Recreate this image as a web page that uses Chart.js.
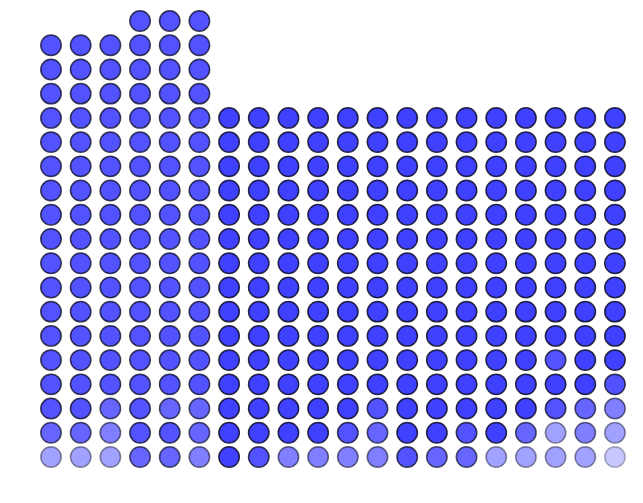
<!DOCTYPE html>
<html>
<head>
<meta charset="utf-8">
<script src="https://cdn.jsdelivr.net/npm/chart.js@4/dist/chart.umd.min.js"></script>
<style>
	body { margin: 0; background: #fff; }
</style>
</head>
<body>
<canvas id="dotChart" width="643" height="503"></canvas>
<script>
// number of dots stacked in each column
var columnHeights = [18, 18, 18, 19, 19, 19, 15, 15, 15, 15, 15, 15, 15, 15, 15, 15, 15, 15, 15, 15];

// shade of each column above the bottom rows
var baseShades = ['B', 'B', 'B', 'B', 'B', 'B', 'A', 'A', 'A', 'A', 'A', 'A', 'A', 'A', 'A', 'A', 'A', 'A', 'A', 'A'];

// shades of the bottom rows, row 0 first
var row0 = ['E', 'E', 'E', 'C', 'C', 'D', 'A', 'B', 'D', 'D', 'D', 'D', 'B', 'C', 'C', 'E', 'E', 'E', 'E', 'F'];
var row1 = ['C', 'C', 'D', 'B', 'B', 'C', 'A', 'A', 'A', 'A', 'B', 'C', 'A', 'A', 'B', 'A', 'C', 'E', 'D', 'E'];
var row2 = ['B', 'B', 'C', 'B', 'C', 'C', 'A', 'A', 'A', 'A', 'A', 'B', 'A', 'A', 'A', 'A', 'A', 'B', 'C', 'D'];
var row3 = ['B', 'B', 'B', 'B', 'B', 'B', 'A', 'A', 'A', 'A', 'A', 'A', 'A', 'A', 'A', 'A', 'A', 'A', 'A', 'B'];
var row4 = ['B', 'B', 'B', 'B', 'B', 'B', 'A', 'A', 'A', 'A', 'A', 'A', 'A', 'A', 'A', 'A', 'A', 'B', 'A', 'A'];

var shadeAlpha = { A: 0.75, B: 0.68, C: 0.6, D: 0.5, E: 0.37, F: 0.22 };

var bottomRows = [row0, row1, row2, row3, row4];
var points = [];
var fills = [];
var borders = [];

for (var col = 0; col < columnHeights.length; col++) {
	for (var row = 0; row < columnHeights[col]; row++) {
		var shade = row < bottomRows.length ? bottomRows[row][col] : baseShades[col];
		var a = shadeAlpha[shade];
		points.push({ x: col, y: row });
		fills.push('rgba(0, 0, 255, ' + a + ')');
		borders.push('rgba(10, 10, 40, ' + Math.min(1, a + 0.1) + ')');
	}
}

new Chart(document.getElementById('dotChart'), {
	type: 'scatter',
	data: {
		datasets: [{
			data: points,
			backgroundColor: fills,
			borderColor: borders,
			borderWidth: 1.5,
			pointRadius: 10.2,
			pointHoverRadius: 10.2
		}]
	},
	options: {
		responsive: false,
		animation: false,
		layout: { padding: 0, autoPadding: false },
		plugins: {
			legend: { display: false },
			tooltip: { enabled: false }
		},
		scales: {
			x: { display: false, min: -1.718, max: 19.945 },
			y: { display: false, min: -1.899, max: 18.867 }
		}
	}
});
</script>
</body>
</html>
